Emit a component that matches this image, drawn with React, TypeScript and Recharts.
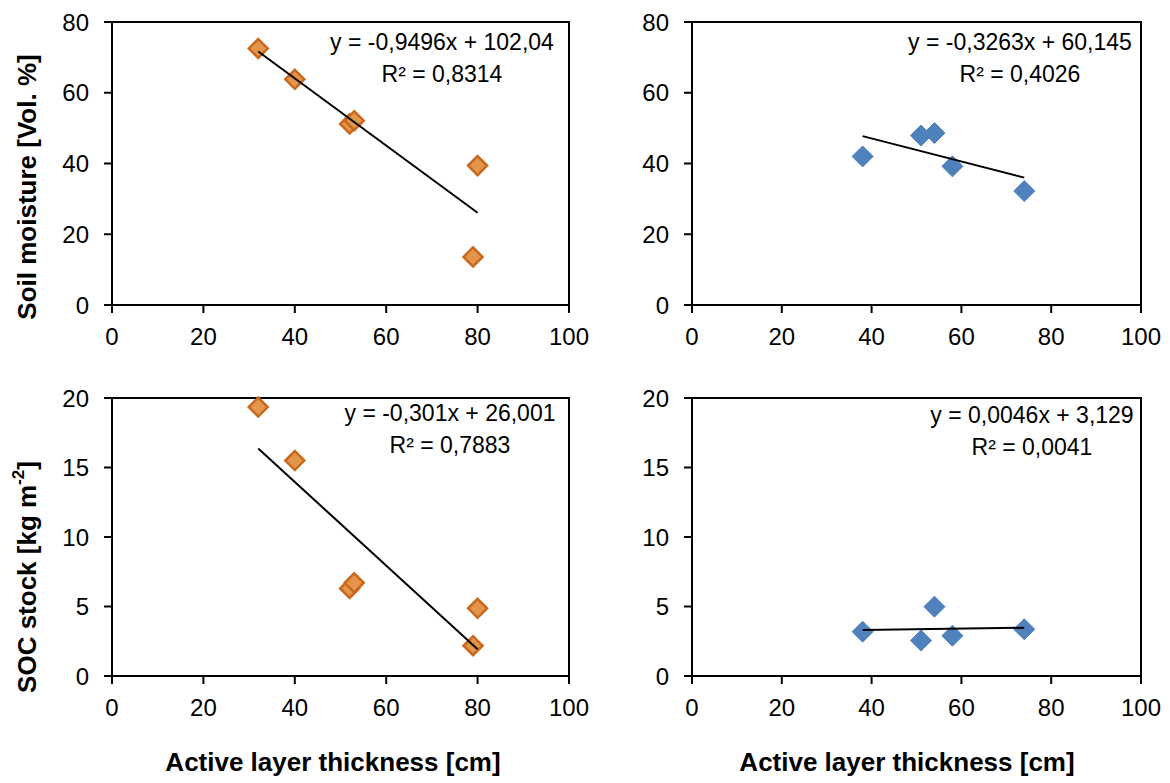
import { ScatterChart, Scatter, XAxis, YAxis, ReferenceArea } from "recharts";

// site A (orange) and site B (blue)
const thicknessA = [32, 40, 52, 53, 80, 79];
const moistureA = [72.5, 63.8, 51.2, 52.1, 39.4, 13.6];
const socA = [19.35, 15.5, 6.3, 6.7, 4.87, 2.18];

const thicknessB = [38, 51, 54, 58, 74];
const moistureB = [42.0, 47.9, 48.6, 39.2, 32.2];
const socB = [3.19, 2.55, 4.99, 2.9, 3.36];

const xTicks = [0, 20, 40, 60, 80, 100];
const moistureTicks = [0, 20, 40, 60, 80];
const socTicks = [0, 5, 10, 15, 20];

// linear fits: [slope, intercept]
const fitMoistureA = [-0.9496, 102.04];
const fitMoistureB = [-0.3263, 60.145];
const fitSocA = [-0.301, 26.001];
const fitSocB = [0.0046, 3.129];

const eqMoistureA = ["y = -0,9496x + 102,04", "R² = 0,8314"];
const eqMoistureB = ["y = -0,3263x + 60,145", "R² = 0,4026"];
const eqSocA = ["y = -0,301x + 26,001", "R² = 0,7883"];
const eqSocB = ["y = 0,0046x + 3,129", "R² = 0,0041"];

const FONT = "'Liberation Sans', Arial, sans-serif";
const ORANGE_FILL = "#E3954B";
const ORANGE_LINE = "#C8691D";
const BLUE = "#4F81BD";

type Box = { left: number; top: number; right: number; bottom: number };

type PanelProps = {
  x: number;
  y: number;
  w: number;
  h: number;
  plot: Box;
  xs: number[];
  ys: number[];
  yTicks: number[];
  fit: number[];
  fill: string;
  stroke: string;
  r: number;
  sw: number;
};

function Panel({ x, y, w, h, plot, xs, ys, yTicks, fit, fill, stroke, r, sw }: PanelProps) {
  const pts = xs.map((v, i) => ({ x: v, y: ys[i] }));
  const x0 = Math.min(...xs);
  const x1 = Math.max(...xs);
  const trend = [
    { x: x0, y: fit[0] * x0 + fit[1] },
    { x: x1, y: fit[0] * x1 + fit[1] },
  ];
  const yMax = yTicks[yTicks.length - 1];

  const diamond = (p: any) => {
    const { cx, cy } = p;
    return (
      <polygon
        points={`${cx},${cy - r} ${cx + r},${cy} ${cx},${cy + r} ${cx - r},${cy}`}
        fill={fill}
        stroke={stroke}
        strokeWidth={sw}
      />
    );
  };

  const tick = { fill: "#000", fontSize: 24, fontFamily: FONT };

  return (
    <div style={{ position: "absolute", left: x, top: y }}>
      <ScatterChart
        width={w}
        height={h}
        margin={{ top: plot.top - y, right: x + w - plot.right, left: 0, bottom: 0 }}
      >
        <XAxis
          type="number"
          dataKey="x"
          domain={[0, 100]}
          ticks={xTicks}
          height={y + h - plot.bottom}
          tick={tick}
          tickSize={8}
          tickMargin={15}
          axisLine={{ stroke: "#000", strokeWidth: 2 }}
          tickLine={{ stroke: "#000", strokeWidth: 2 }}
        />
        <YAxis
          type="number"
          dataKey="y"
          domain={[0, yMax]}
          ticks={yTicks}
          width={plot.left - x}
          tick={tick}
          tickSize={8}
          tickMargin={15}
          axisLine={{ stroke: "#000", strokeWidth: 2 }}
          tickLine={{ stroke: "#000", strokeWidth: 2 }}
        />
        <ReferenceArea
          x1={0}
          x2={100}
          y1={0}
          y2={yMax}
          fill="none"
          fillOpacity={0}
          stroke="#000"
          strokeWidth={2}
        />
        <Scatter data={pts} shape={diamond} isAnimationActive={false} />
        <Scatter
          data={trend}
          line={{ stroke: "#000", strokeWidth: 2 }}
          shape={() => <g />}
          isAnimationActive={false}
        />
      </ScatterChart>
    </div>
  );
}

function Equation({ cx, y, lines }: { cx: number; y: number; lines: string[] }) {
  return (
    <g fontFamily={FONT} fontSize={23} textAnchor="middle" fill="#000">
      <text x={cx} y={y}>{lines[0]}</text>
      <text x={cx} y={y + 32}>{lines[1]}</text>
    </g>
  );
}

export default function App() {
  const topPlotL: Box = { left: 112, top: 22, right: 569, bottom: 305 };
  const topPlotR: Box = { left: 692, top: 22, right: 1141, bottom: 305 };
  const botPlotL: Box = { left: 112, top: 398, right: 569, bottom: 676 };
  const botPlotR: Box = { left: 692, top: 398, right: 1141, bottom: 676 };

  return (
    <div
      style={{
        position: "absolute",
        left: 0,
        top: 0,
        width: 1170,
        height: 783,
        background: "#fff",
        fontFamily: FONT,
      }}
    >
      <Panel x={0} y={0} w={590} h={360} plot={topPlotL} xs={thicknessA} ys={moistureA}
        yTicks={moistureTicks} fit={fitMoistureA} fill={ORANGE_FILL} stroke={ORANGE_LINE} r={9.5} sw={2.5} />
      <Panel x={590} y={0} w={580} h={360} plot={topPlotR} xs={thicknessB} ys={moistureB}
        yTicks={moistureTicks} fit={fitMoistureB} fill={BLUE} stroke={BLUE} r={10.5} sw={1} />
      <Panel x={0} y={370} w={590} h={360} plot={botPlotL} xs={thicknessA} ys={socA}
        yTicks={socTicks} fit={fitSocA} fill={ORANGE_FILL} stroke={ORANGE_LINE} r={9.5} sw={2.5} />
      <Panel x={590} y={370} w={580} h={360} plot={botPlotR} xs={thicknessB} ys={socB}
        yTicks={socTicks} fit={fitSocB} fill={BLUE} stroke={BLUE} r={10.5} sw={1} />

      <svg
        width={1170}
        height={783}
        style={{ position: "absolute", left: 0, top: 0, pointerEvents: "none" }}
      >
        <g fontFamily={FONT} fontWeight="bold" fontSize={26} fill="#000" textAnchor="middle">
          <text transform="translate(27,187) rotate(-90)" dominantBaseline="central">
            Soil moisture [Vol. %]
          </text>
          <text transform="translate(27,577) rotate(-90)" dominantBaseline="central">
            SOC stock [kg m<tspan fontSize={17} dy={-9}>-2</tspan>
            <tspan dy={9}>]</tspan>
          </text>
          <text x={333} y={771}>Active layer thickness [cm]</text>
          <text x={907} y={771}>Active layer thickness [cm]</text>
        </g>
        <Equation cx={442} y={50} lines={eqMoistureA} />
        <Equation cx={1020} y={50} lines={eqMoistureB} />
        <Equation cx={450} y={421} lines={eqSocA} />
        <Equation cx={1032} y={423} lines={eqSocB} />
      </svg>
    </div>
  );
}
